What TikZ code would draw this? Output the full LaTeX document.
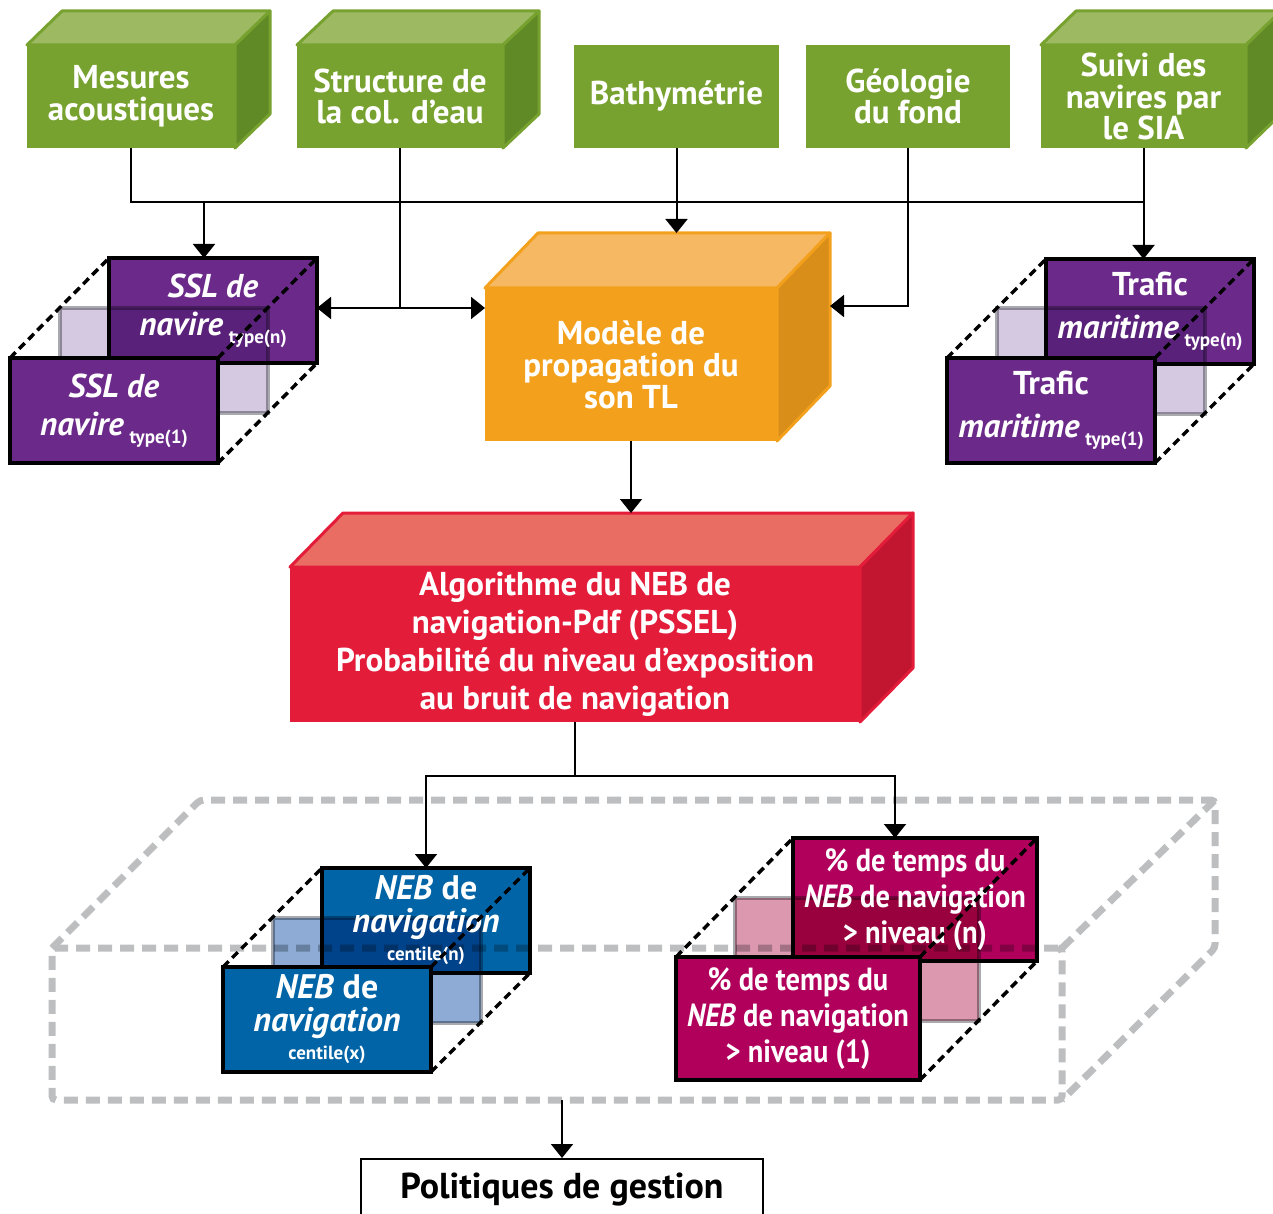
\documentclass[tikz,border=0pt]{standalone}
\usepackage{fontspec}
\setmainfont{PT Sans}
\newfontfamily\condfont{PT Sans}[FakeStretch=0.89]
\usetikzlibrary{arrows.meta,calc}
\definecolor{cgreen}{HTML}{78A22F}
\definecolor{cgreentop}{HTML}{9DBA63}
\definecolor{cgreenside}{HTML}{5F8A26}
\definecolor{corange}{HTML}{F3A11D}
\definecolor{corangetop}{HTML}{F6B862}
\definecolor{corangeside}{HTML}{D98E19}
\definecolor{cred}{HTML}{E31C3A}
\definecolor{credtop}{HTML}{EA6D63}
\definecolor{credside}{HTML}{C2152F}
\definecolor{cpurple}{HTML}{6B2A8A}
\definecolor{cpurplemid}{HTML}{D5C9E1}
\definecolor{cblue}{HTML}{0064A6}
\definecolor{cbluemid}{HTML}{8DABD4}
\definecolor{cmag}{HTML}{B1005B}
\definecolor{cmagmid}{HTML}{DC98AE}
\definecolor{midgray}{HTML}{A8AAAD}
\definecolor{biggray}{HTML}{BCBEC0}
\newcommand\fs[2]{\fontsize{#1}{#2}\selectfont}
\tikzset{
 facebox/.style={inner sep=0pt, outer sep=0pt, text=white, align=center},
 cgreentxt/.style={font=\bfseries\fs{33}{31.5}},
 corangetxt/.style={font=\bfseries\fs{33}{32}},
 credtxt/.style={font=\bfseries\fs{33}{38}},
 sslfont/.style={font=\bfseries\fs{33}{38}},
 neb font/.style={font=\bfseries\fs{34}{33}},
 pctfont/.style={font=\condfont\bfseries\fs{32}{36}},
 stackbox/.style={draw=black, line width=4pt, inner sep=0pt, outer sep=0pt, text=white, align=center},
 blkdash/.style={line width=3.5pt, dash pattern=on 8pt off 5pt},
 conn/.style={line width=2pt},
 arr/.style={line width=2pt, -{Triangle[width=22pt,length=14pt]}},
 bigdash/.style={draw=biggray, line width=7pt, dash pattern=on 14pt off 8pt, rounded corners=4pt},
}
% name, x1, y1, x2, y2, dx, dy, colour, text
\newcommand\cube[9]{%
  \fill[#8top, draw=#8, line width=3pt, line join=round] (#2,#3) -- (#2+#6,#3-#7) -- (#4+#6,#3-#7) -- (#4,#3) -- cycle;
  \fill[#8side, draw=#8, line width=3pt, line join=round] (#4,#3) -- (#4+#6,#3-#7) -- (#4+#6,#5-#7) -- (#4,#5) -- cycle;
  \node[facebox, #8txt, fill=#8, minimum width=#4-#2, minimum height=#5-#3] (#1) at ({(#2+#4)/2},{(#3+#5)/2}) {#9};
  \coordinate (#1bn) at ({(#2+#4)/2+#6},{#3-#7});
  \coordinate (#1bne) at (#4+#6,#3-#7);
}
% name, fx, fy, w, h, dx, dy, colour, font style ; texts in \backtext, \fronttext
\newcommand\stack[9]{%
  \fill[#8mid, draw=midgray, line width=4pt, blend mode=multiply] (#2+#6/2,#3-#7/2) rectangle ++(#4,#5);
  \fill[#8, blend mode=multiply] (#2+#6,#3-#7) rectangle ++(#4,#5);
  \node[stackbox, #9, minimum width=#4, minimum height=#5] (#1B) at (#2+#6+#4/2,#3-#7+#5/2) {\backtext};
  \node[stackbox, #9, fill=#8, minimum width=#4, minimum height=#5] (#1F) at (#2+#4/2,#3+#5/2) {\fronttext};
  \draw[blkdash] (#1F.north west) -- (#1B.north west) (#1F.north east) -- (#1B.north east) (#1F.south east) -- (#1B.south east);
}
\begin{document}
\begin{tikzpicture}[x=1pt,y=-1pt]
\useasboundingbox (0,0) rectangle (1273,1214);
% green sources
\cube{mes}{27}{45}{235}{148}{35}{34}{cgreen}{Mesures\\acoustiques}
\cube{str}{297}{45}{503}{148}{36}{34}{cgreen}{Structure de\\la col. d{\char"0027}eau}
\node[facebox, cgreentxt, fill=cgreen, minimum width=205, minimum height=103] (bat) at (676.5,96.5) {Bathymétrie};
\node[facebox, cgreentxt, fill=cgreen, minimum width=204, minimum height=103] (geo) at (908,96.5) {Géologie\\du fond};
\cube{sui}{1041}{45}{1246}{148}{35}{34}{cgreen}{Suivi des\\navires par\\le SIA}
% model and algorithm
\cube{prop}{485}{288}{777}{441}{53}{55}{corange}{Modèle de\\propagation du\\son TL}
\cube{algo}{290}{567}{860}{722}{53}{54}{cred}{Algorithme du NEB de\\navigation-Pdf (PSSEL)\\Probabilité du niveau d’exposition\\au bruit de navigation}
% side stacks
\def\backtext{\textit{SSL de}\\\textit{navire}\,\raisebox{-8pt}{\fs{19}{19}type(n)}}
\def\fronttext{\textit{SSL de}\\\textit{navire}\,\raisebox{-8pt}{\fs{19}{19}type(1)}}
\stack{ssl}{10}{358}{208}{105}{99}{100}{cpurple}{sslfont}
\def\backtext{Trafic\\[5pt]\textit{maritime}\,\raisebox{-8pt}{\fs{19}{19}type(n)}}
\def\fronttext{Trafic\\[5pt]\textit{maritime}\,\raisebox{-8pt}{\fs{19}{19}type(1)}}
\stack{tr}{947}{358}{208}{105}{99}{99}{cpurple}{sslfont}
% big dashed volume
\node[bigdash, minimum width=1010, minimum height=152, inner sep=0pt, outer sep=0pt] (bigF) at (557,1024) {};
\coordinate (bigbk) at (1215,800);
\draw[bigdash] (bigF.north west) -- ++(148,-148) -- (bigbk) -- ++(0,148) -- (bigF.south east);
\draw[bigdash] (bigF.north east) -- (bigbk);
% output stacks
\def\backtext{\textit{NEB} de\\\textit{navigation}\\[-5pt]{\fs{19}{19}centile(n)}}
\def\fronttext{\textit{NEB} de\\\textit{navigation}\\[-5pt]{\fs{19}{19}centile(x)}}
\stack{neb}{223}{967}{208}{105}{99}{99}{cblue}{neb font}
\def\backtext{\% de temps du\\\textit{NEB} de navigation\\> niveau (n)}
\def\fronttext{\% de temps du\\\textit{NEB} de navigation\\> niveau (1)}
\stack{pct}{676}{957}{244}{123}{117}{119}{cmag}{pctfont}
% policy box
\node[draw=black, line width=2pt, minimum width=402, minimum height=62, inner sep=0pt, font=\bfseries\fs{36}{36}] (pol) at (562,1190) {Politiques de gestion};
% connectors
\coordinate (hl) at (0,202);
\coordinate (sl) at (0,308);
\draw[conn] (mes.south) -- (mes.south |- hl) -- (sui.south |- hl);
\draw[arr] (bat.south) -- (bat.south |- propbn);
\draw[arr] (sui.south) -- (sui.south |- trB.north);
\draw[arr] ([xshift=-9pt]sslB.north |- hl) -- ([xshift=-9pt]sslB.north);
\draw[conn] (str.south) -- (str.south |- sl);
\draw[arr] (str.south |- sl) -- (sslB.east |- sl);
\draw[arr] (str.south |- sl) -- (prop.west |- sl);
\draw[arr] (geo.south) |- (propbne |- 0,306);
\draw[arr] (prop.south) -- (prop.south |- algobn);
\draw[conn] (algo.south) -- ++(0,54) coordinate (split);
\draw[arr] (split) -| (nebB.north);
\draw[arr] (split) -| ([xshift=-20pt]pctB.north);
\draw[arr] (pol.north |- bigF.south) -- (pol.north);
\end{tikzpicture}
\end{document}
